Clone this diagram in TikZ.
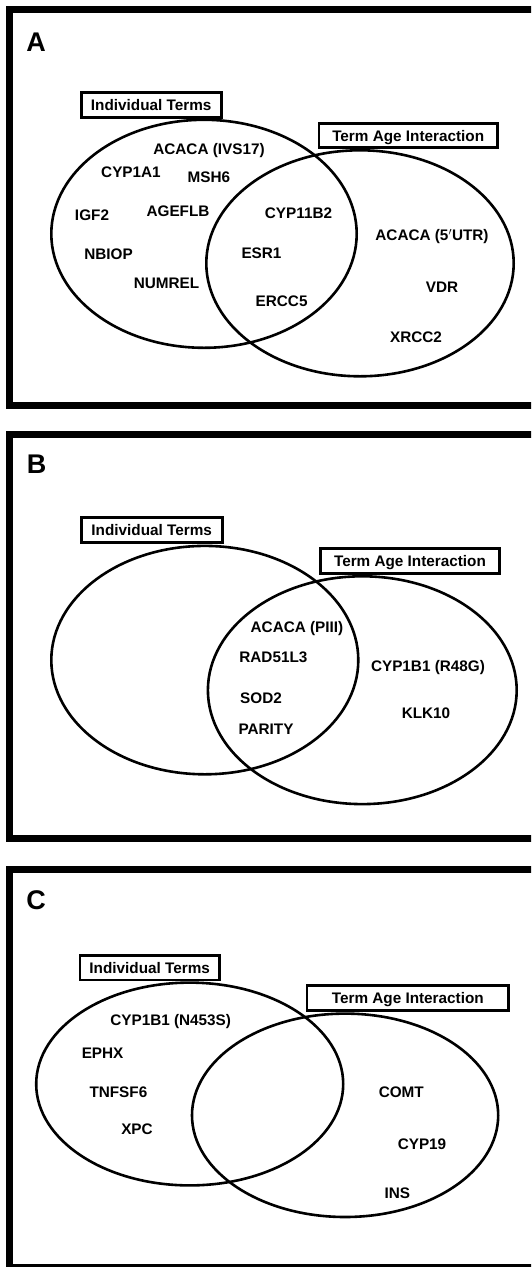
\documentclass[tikz,border=0pt]{standalone}
\usepackage{fontspec}
\setmainfont{Liberation Sans}
\usepackage{tikz}

\begin{document}
\begin{tikzpicture}[x=1pt,y=-1pt,
  frame/.style = {draw,line width=7.3pt},
  venn/.style = {draw,line width=2.6pt},
  box/.style = {draw,line width=2.6pt,fill=white,inner sep=0pt,
        font=\fontsize{15.3}{18}\selectfont\bfseries,
        text height=11pt,text depth=0pt},
  gene/.style = {inner sep=0pt,font=\fontsize{15.3}{18}\selectfont\bfseries,
        text height=11pt,text depth=0pt},
  panel/.style = {inner sep=0pt,font=\fontsize{27}{30}\selectfont\bfseries,
        text height=19pt,text depth=0pt}]
 \useasboundingbox (0,0) rectangle (531,1267);
 \clip (0,0) rectangle (531,1267);
 % panel A
 \draw[frame] (9.7,9.7) rectangle (560,405.7);
 \node[panel] (pA) at (36,42) {A};
 \draw[venn] (204,233.8) ellipse (152.7 and 114);
 \draw[venn] (360,263.3) ellipse (153.7 and 113);
 \node[box,minimum width=140pt,minimum height=25pt] (itA) at (151.2,104.8) {Individual Terms};
 \node[box,minimum width=178.4pt,minimum height=24.4pt] (taA) at (408.2,135.5) {Term Age Interaction};
 \node[gene] (a1) at (209,149) {ACACA (IVS17)};
 \node[gene] (a2) at (131,172) {CYP1A1};
 \node[gene] (a3) at (209,177) {MSH6};
 \node[gene] (a4) at (92,215) {IGF2};
 \node[gene] (a5) at (178,211) {AGEFLB};
 \node[gene] (a6) at (298.5,213) {CYP11B2};
 \node[gene] (a7) at (432,235) {ACACA (5$'$UTR)};
 \node[gene] (a8) at (108.5,254) {NBIOP};
 \node[gene] (a9) at (261.5,253) {ESR1};
 \node[gene] (a10) at (166.5,283) {NUMREL};
 \node[gene] (a11) at (442,287) {VDR};
 \node[gene] (a12) at (281.6,301) {ERCC5};
 \node[gene] (a13) at (416,337) {XRCC2};
 % panel B
 \draw[frame] (9.7,434.3) rectangle (560,838.5);
 \node[panel] (pB) at (36.5,464) {B};
 \draw[venn] (204.8,660.1) ellipse (153.5 and 114.2);
 \draw[venn] (362.3,690.2) ellipse (154.4 and 113.9);
 \node[box,minimum width=141pt,minimum height=25.4pt] (itB) at (151.7,530) {Individual Terms};
 \node[box,minimum width=179.4pt,minimum height=25.4pt] (taB) at (410,561) {Term Age Interaction};
 \node[gene] (b1) at (297,626.6) {ACACA (PIII)};
 \node[gene] (b2) at (273.4,657.4) {RAD51L3};
 \node[gene] (b3) at (428,665.5) {CYP1B1 (R48G)};
 \node[gene] (b4) at (261,697.7) {SOD2};
 \node[gene] (b5) at (426,713.3) {KLK10};
 \node[gene] (b6) at (266,728.5) {PARITY};
 % panel C
 \draw[frame] (9.7,869.5) rectangle (560,1267.7);
 \node[panel] (pC) at (36,900) {C};
 \draw[venn] (189.7,1084) ellipse (153.5 and 101.4);
 \draw[venn] (345.1,1115.3) ellipse (153.1 and 101.7);
 \node[box,minimum width=139.6pt,minimum height=24.7pt] (itC) at (149.7,967.7) {Individual Terms};
 \node[box,minimum width=201.3pt,minimum height=25pt] (taC) at (407.8,997.8) {Term Age Interaction};
 \node[gene] (c1) at (170.7,1019.7) {CYP1B1 (N453S)};
 \node[gene] (c2) at (102.6,1053.3) {EPHX};
 \node[gene] (c3) at (118.4,1092.3) {TNFSF6};
 \node[gene] (c4) at (401.3,1091.7) {COMT};
 \node[gene] (c5) at (137,1129.3) {XPC};
 \node[gene] (c6) at (422,1144.3) {CYP19};
 \node[gene] (c7) at (397.4,1193.3) {INS};
\end{tikzpicture}
\end{document}
